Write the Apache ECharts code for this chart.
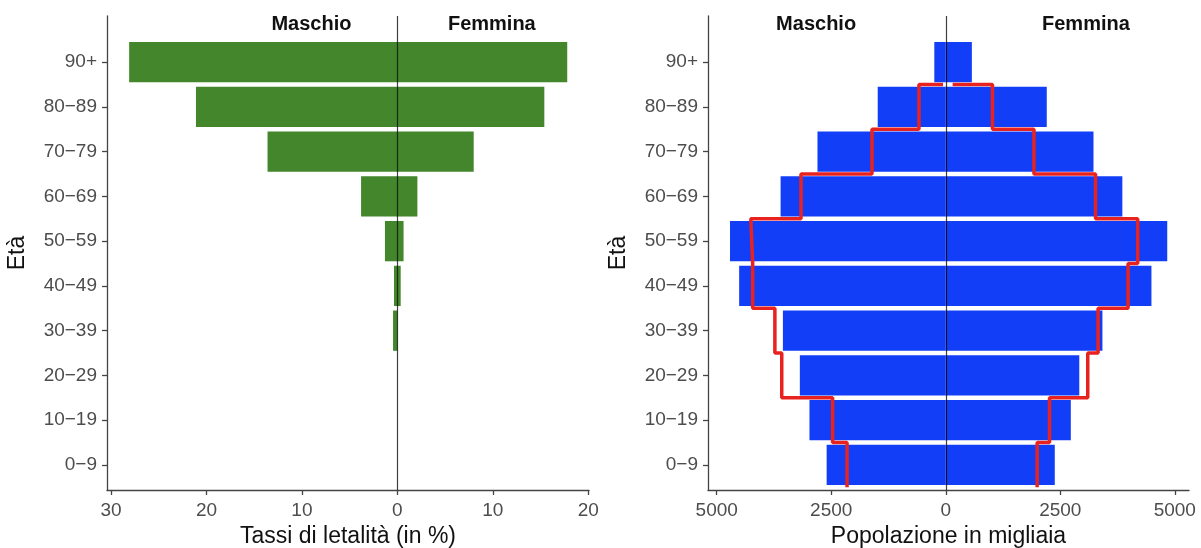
<!DOCTYPE html>
<html>
<head>
<meta charset="utf-8">
<script src="https://cdn.jsdelivr.net/npm/echarts@6/dist/echarts.min.js"></script>
<style>
  html, body { margin: 0; padding: 0; background: #fff; }
  #chart { width: 1201px; height: 548px; }
</style>
</head>
<body>
<div id="chart"></div>
<script>
// age classes, bottom to top
var ages = ['0−9', '10−19', '20−29', '30−39', '40−49', '50−59', '60−69', '70−79', '80−89', '90+'];
// case fatality rates (%)
var cfrMale   = [0, 0, 0, 0.45, 0.35, 1.3, 3.8, 13.6, 21.1, 28.1];
var cfrFemale = [0, 0, 0, 0.0, 0.35, 0.65, 2.1, 8.0, 15.4, 17.8];
// population in thousands
var popMale   = [2600, 2975, 3185, 3555, 4510, 4710, 3605, 2800, 1485, 250];
var popFemale = [2380, 2730, 2915, 3420, 4490, 4835, 3855, 3225, 2205, 570];
// red outline (thousands)
var refMale   = [2155, 2470, 3580, 3730, 4215, 4255, 3160, 1610, 585, 60];
var refFemale = [1995, 2265, 3100, 3325, 3980, 4190, 3270, 1925, 1020, 150];
var sexLabels = ['Maschio', 'Femmina'];
var cfrTicks = [-30, -20, -10, 0, 10, 20];
var popTicks = [-5000, -2500, 0, 2500, 5000];

var FONT = "'Liberation Sans', Arial, sans-serif";
var ageIdx = ages.map(function (a, i) { return i; });

function barData(vals, sign) {
  return vals.map(function (v, i) { return [sign * v, i]; });
}

function renderBar(params, api) {
  var v = api.value(0), i = api.value(1);
  var p0 = api.coord([0, i + 0.45]);
  var p1 = api.coord([v, i - 0.45]);
  return {
    type: 'rect',
    shape: { x: Math.min(p0[0], p1[0]), y: p0[1], width: Math.abs(p1[0] - p0[0]), height: p1[1] - p0[1] },
    style: api.style()
  };
}

function renderText(params, api) {
  var p = api.coord([api.value(0), api.value(1)]);
  return {
    type: 'text', x: p[0], y: p[1],
    style: { text: sexLabels[params.dataIndex], font: 'bold 20px ' + FONT, fill: '#111', align: 'center', verticalAlign: 'middle' }
  };
}

function stepData(vals, sign) {
  var out = [];
  for (var i = 0; i < vals.length - 1; i++) {
    out.push([sign * vals[i], i - 0.5]);
    out.push([sign * vals[i], i + 0.5]);
  }
  out.push([sign * vals[vals.length - 1], vals.length - 1.5]);
  return out;
}

function yAxisOpt(grid) {
  return {
    type: 'value', gridIndex: grid, min: -0.56, max: 10.03,
    name: 'Età', nameLocation: 'middle', nameGap: 78,
    nameTextStyle: { fontSize: 23, color: '#111', fontFamily: FONT },
    axisLine: { show: true, onZero: false, lineStyle: { color: '#444', width: 1.3 } },
    axisTick: { show: true, length: 5, customValues: ageIdx, lineStyle: { color: '#444', width: 1.3 } },
    axisLabel: { customValues: ageIdx, margin: 10, fontSize: 19, color: '#4d4d4d', fontFamily: FONT,
      formatter: function (v) { return ages[Math.round(v)]; } },
    splitLine: { show: false }
  };
}

function xAxisOpt(grid, min, max, ticks, name) {
  return {
    type: 'value', gridIndex: grid, min: min, max: max,
    name: name, nameLocation: 'middle', nameGap: 33,
    nameTextStyle: { fontSize: 23, color: '#111', fontFamily: FONT },
    axisLine: { show: true, onZero: false, lineStyle: { color: '#444', width: 1.3 } },
    axisTick: { show: true, length: 5, customValues: ticks, lineStyle: { color: '#444', width: 1.3 } },
    axisLabel: { customValues: ticks, margin: 11, fontSize: 19, color: '#4d4d4d', fontFamily: FONT,
      formatter: function (v) { return String(Math.abs(v)); } },
    splitLine: { show: false }
  };
}

var centerLine = {
  silent: true, symbol: 'none', label: { show: false },
  lineStyle: { color: 'rgba(0,0,0,0.75)', width: 1.2, type: 'solid' },
  data: [{ xAxis: 0 }]
};

var chart = echarts.init(document.getElementById('chart'));
chart.setOption({
  animation: false,
  backgroundColor: '#fff',
  grid: [
    { left: 107, right: 612, top: 16, bottom: 58, outerBoundsMode: 'none' },
    { left: 708, right: 12, top: 16, bottom: 58, outerBoundsMode: 'none' }
  ],
  xAxis: [
    xAxisOpt(0, -30.42, 20.08, cfrTicks, 'Tassi di letalità (in %)'),
    xAxisOpt(1, -5190, 5310, popTicks, 'Popolazione in migliaia')
  ],
  yAxis: [yAxisOpt(0), yAxisOpt(1)],
  series: [
    { type: 'custom', xAxisIndex: 0, yAxisIndex: 0, renderItem: renderBar, encode: { x: 0, y: 1 },
      itemStyle: { color: '#43862b' }, data: barData(cfrMale, -1) },
    { type: 'custom', xAxisIndex: 0, yAxisIndex: 0, renderItem: renderBar, encode: { x: 0, y: 1 },
      itemStyle: { color: '#43862b' }, data: barData(cfrFemale, 1) },
    { type: 'custom', xAxisIndex: 0, yAxisIndex: 0, renderItem: renderText, z: 5,
      data: [[-9.0, 9.83], [9.9, 9.83]], markLine: centerLine },

    { type: 'custom', xAxisIndex: 1, yAxisIndex: 1, renderItem: renderBar, encode: { x: 0, y: 1 },
      itemStyle: { color: '#123ef8' }, data: barData(popMale, -1) },
    { type: 'custom', xAxisIndex: 1, yAxisIndex: 1, renderItem: renderBar, encode: { x: 0, y: 1 },
      itemStyle: { color: '#123ef8' }, data: barData(popFemale, 1) },
    { type: 'line', xAxisIndex: 1, yAxisIndex: 1, showSymbol: false, z: 3,
      lineStyle: { color: '#e8231f', width: 3.5 }, data: stepData(refMale, -1) },
    { type: 'line', xAxisIndex: 1, yAxisIndex: 1, showSymbol: false, z: 3,
      lineStyle: { color: '#e8231f', width: 3.5 }, data: stepData(refFemale, 1) },
    { type: 'custom', xAxisIndex: 1, yAxisIndex: 1, renderItem: renderText, z: 5,
      data: [[-2830, 9.83], [3060, 9.83]], markLine: centerLine }
  ]
});
</script>
</body>
</html>
